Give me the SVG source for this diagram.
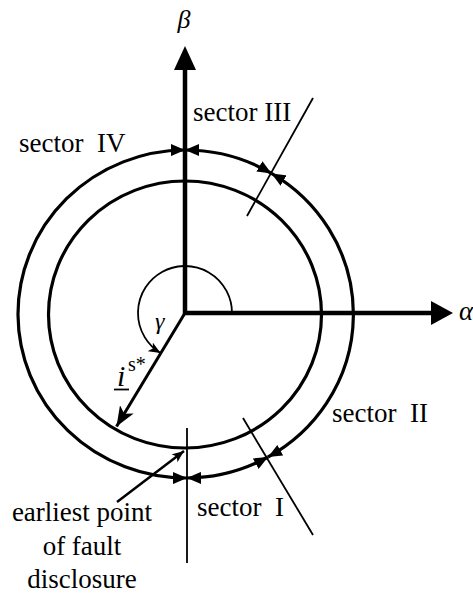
<svg xmlns="http://www.w3.org/2000/svg" width="473" height="596" viewBox="0 0 473 596">
  <style>
    text { font-family: 'Liberation Serif', 'Times New Roman', 'DejaVu Serif', serif; fill: #000; }
    .lbl { font-size: 27px; }
    .it { font-style: italic; }
    .ring { fill: none; stroke: #000; stroke-width: 3.2; }
    .sec { fill: none; stroke: #000; stroke-width: 3.2; marker-start: url(#secA); marker-end: url(#secB); }
    .axis { stroke: #000; stroke-width: 4.5; fill: none; }
    .thin { stroke: #000; stroke-width: 1.8; fill: none; }
  </style>
  <defs>
    <marker id="secB" markerUnits="userSpaceOnUse" viewBox="0 0 14 12" markerWidth="14" markerHeight="12" refX="14" refY="6" orient="auto">
      <path d="M0,0 L14,6 L0,12 Z" fill="#000"/>
    </marker>
    <marker id="secA" markerUnits="userSpaceOnUse" viewBox="0 0 14 12" markerWidth="14" markerHeight="12" refX="14" refY="6" orient="auto-start-reverse">
      <path d="M0,0 L14,6 L0,12 Z" fill="#000"/>
    </marker>
    <marker id="vec" markerUnits="userSpaceOnUse" viewBox="0 0 20 16" markerWidth="20" markerHeight="16" refX="20" refY="8" orient="auto">
      <path d="M0,0 L20,8 L0,16 L5,8 Z" fill="#000"/>
    </marker>
    <marker id="small" markerUnits="userSpaceOnUse" viewBox="0 0 12 10" markerWidth="12" markerHeight="10" refX="12" refY="5" orient="auto">
      <path d="M0,0 L12,5 L0,10 L3,5 Z" fill="#000"/>
    </marker>
  </defs>

  <g id="inner-circle">
    <ellipse class="ring" cx="185" cy="314.5" rx="136.5" ry="133.5"/>
  </g>

  <g id="outer-circle">
    <path id="arc-sector-III" class="sec" d="M185,150 A168,164 0 0 1 271.5,173.4"/>
    <path id="arc-sector-II" class="sec" d="M271.5,173.4 A168,164 0 0 1 268,457"/>
    <path id="arc-sector-I" class="sec" d="M268,457 A168,164 0 0 1 187,478"/>
    <path id="arc-sector-IV" class="sec" d="M187,478 A168,164 0 1 1 185,150"/>
  </g>

  <g id="connectors">
    <line class="thin" x1="313" y1="98" x2="247" y2="216"/>
    <line class="thin" x1="243" y1="418" x2="313" y2="535"/>
    <line class="thin" x1="187" y1="428" x2="187" y2="563"/>
    <path class="thin" d="M232,313 A47,47 0 1 0 160.5,353.1" marker-end="url(#small)"/>
    <line stroke="#000" stroke-width="3" x1="185" y1="313" x2="116.5" y2="426.5" marker-end="url(#vec)"/>
    <line stroke="#000" stroke-width="2.5" x1="117" y1="502" x2="184" y2="451" marker-end="url(#small)"/>
  </g>

  <g id="beta-axis">
    <line class="axis" x1="185" y1="315" x2="185" y2="68"/>
    <polygon points="185,46 174,70 196,70" fill="#000"/>
    <text class="it" x="184" y="28" font-size="26" text-anchor="middle" font-family="Liberation Serif, serif">β</text>
  </g>

  <g id="alpha-axis">
    <line class="axis" x1="183" y1="313" x2="433" y2="313"/>
    <polygon points="453,313 431,301 431,325" fill="#000"/>
    <text class="it" x="459" y="320" font-size="27" font-family="Liberation Serif, serif">α</text>
  </g>

  <g id="gamma">
    <text class="it" x="155" y="329" font-size="24" font-family="Liberation Serif, serif">γ</text>
  </g>

  <g id="current-vector">
    <text class="it" x="117" y="386" font-size="30" font-family="Liberation Serif, serif">i</text>
    <line stroke="#000" stroke-width="1.8" x1="114" y1="389.5" x2="129" y2="389.5"/>
    <text x="128" y="371" font-size="20" font-family="Liberation Serif, serif">s*</text>
  </g>

  <g id="sector-III"><text class="lbl" x="193" y="121" font-family="Liberation Serif, serif">sector III</text></g>
  <g id="sector-IV"><text class="lbl" x="19" y="152" xml:space="preserve" font-family="Liberation Serif, serif">sector  IV</text></g>
  <g id="sector-II"><text class="lbl" x="332" y="422" xml:space="preserve" font-family="Liberation Serif, serif">sector  II</text></g>
  <g id="sector-I"><text class="lbl" x="197" y="516" xml:space="preserve" font-family="Liberation Serif, serif">sector  I</text></g>

  <g id="earliest-point" font-family="Liberation Serif, serif">
    <text class="lbl" x="82" y="521" text-anchor="middle">earliest point</text>
    <text class="lbl" x="82" y="555" text-anchor="middle">of fault</text>
    <text class="lbl" x="82" y="588" text-anchor="middle">disclosure</text>
  </g>
</svg>
